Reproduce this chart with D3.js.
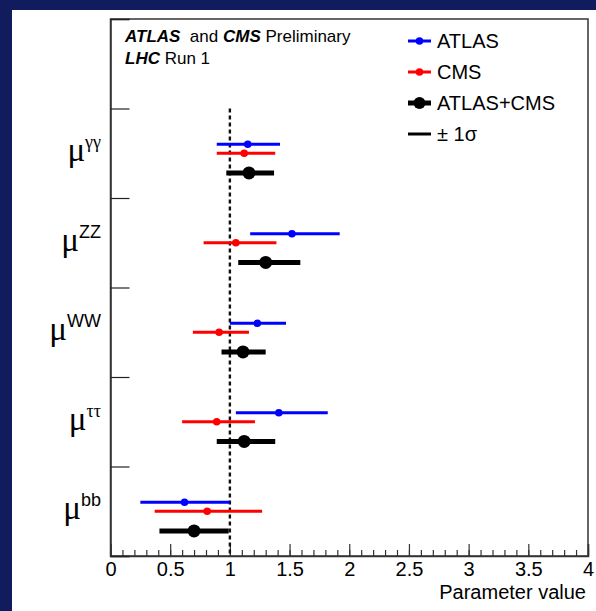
<!DOCTYPE html>
<html>
<head>
<meta charset="utf-8">
<script src="https://cdn.jsdelivr.net/npm/d3@7"></script>
<style>
  body { margin: 0; background: #101c5e; }
  svg { display: block; }
</style>
</head>
<body>
<div id="chart"></div>
<script>
// channels, top to bottom
var categories = ["γγ", "ZZ", "WW", "ττ", "bb"];
var supSerif = [true, false, false, true, false];

// best fit values and +-1 sigma edges
var atlas   = [1.15, 1.52, 1.23, 1.41, 0.62];
var atlasLo = [0.89, 1.17, 1.00, 1.05, 0.25];
var atlasHi = [1.42, 1.92, 1.47, 1.82, 1.00];

var cms   = [1.12, 1.05, 0.91, 0.89, 0.81];
var cmsLo = [0.89, 0.78, 0.69, 0.60, 0.37];
var cmsHi = [1.38, 1.39, 1.16, 1.21, 1.27];

var comb   = [1.16, 1.30, 1.11, 1.12, 0.70];
var combLo = [0.97, 1.07, 0.93, 0.89, 0.41];
var combHi = [1.37, 1.59, 1.30, 1.38, 0.99];

var xTicks = [0, 0.5, 1, 1.5, 2, 2.5, 3, 3.5, 4];

var w = 596, h = 611;
var pLeft = 110.5, pRight = 588, pTop = 19, pBottom = 556;
var sans = "'Liberation Sans', Arial, Helvetica, sans-serif";
var serif = "'Liberation Serif', 'Times New Roman', serif";

var svg = d3.select("#chart").append("svg")
    .attr("width", w)
    .attr("height", h);

// navy border + white page
svg.append("rect").attr("width", w).attr("height", h).attr("fill", "#101c5e");
svg.append("rect").attr("x", 12).attr("y", 10).attr("width", w - 12).attr("height", h - 10).attr("fill", "#fff");

var x = d3.scaleLinear().domain([0, 4]).range([pLeft, pRight]);
// 6 bins, top one kept for the legend
var y = d3.scaleLinear().domain([0, 6]).range([pBottom, pTop]);

// frame
svg.append("rect")
    .attr("x", pLeft).attr("y", pTop)
    .attr("width", pRight - pLeft).attr("height", pBottom - pTop)
    .attr("fill", "none").attr("stroke", "#333").attr("stroke-width", 1.5);

// minor x ticks
svg.append("g")
    .attr("transform", "translate(0," + pBottom + ")")
    .call(d3.axisBottom(x).tickValues(d3.range(0, 41).map(function(d) { return d / 10; })).tickSize(-6).tickFormat(""))
    .call(function(g) { g.select(".domain").remove(); })
    .selectAll("line").attr("stroke", "#333").attr("stroke-width", 1.2);

// major x ticks + labels
var xa = svg.append("g")
    .attr("transform", "translate(0," + pBottom + ")")
    .call(d3.axisBottom(x).tickValues(xTicks).tickSize(-12).tickPadding(6).tickFormat(function(d) { return d; }));
xa.select(".domain").attr("stroke", "#333").attr("stroke-width", 1.5);
xa.selectAll("line").attr("stroke", "#333").attr("stroke-width", 1.2);
xa.selectAll("text").attr("font-family", sans).attr("font-size", 20).attr("fill", "#000");

// y ticks on bin edges
var ya = svg.append("g")
    .attr("transform", "translate(" + pLeft + ",0)")
    .call(d3.axisLeft(y).tickValues(d3.range(0, 7)).tickSize(-19).tickFormat(""));
ya.select(".domain").attr("stroke", "#333").attr("stroke-width", 1.5);
ya.selectAll("line").attr("stroke", "#222").attr("stroke-width", 1.2);

svg.append("text")
    .attr("x", pRight - 2).attr("y", 599)
    .attr("text-anchor", "end")
    .attr("font-family", sans).attr("font-size", 20)
    .text("Parameter value");

// SM line
svg.append("line")
    .attr("x1", x(1)).attr("x2", x(1))
    .attr("y1", y(5)).attr("y2", pBottom)
    .attr("stroke", "#111").attr("stroke-width", 2.4)
    .attr("stroke-dasharray", "4,3");

// y labels
categories.forEach(function(c, i) {
  var t = svg.append("text")
      .attr("x", 101)
      .attr("y", y(5 - i - 0.5) + 8)
      .attr("text-anchor", "end");
  t.append("tspan").attr("font-family", serif).attr("font-size", 33).text("μ");
  t.append("tspan").attr("font-family", supSerif[i] ? serif : sans)
      .attr("font-size", 18).attr("dy", -13).text(c);
});

// error bars
function series(val, lo, hi, off, color, lw, r) {
  var g = svg.append("g");
  g.selectAll("line").data(val).enter().append("line")
      .attr("x1", function(d, i) { return x(lo[i]); })
      .attr("x2", function(d, i) { return x(hi[i]); })
      .attr("y1", function(d, i) { return y(5 - i - off); })
      .attr("y2", function(d, i) { return y(5 - i - off); })
      .attr("stroke", color).attr("stroke-width", lw);
  g.selectAll("circle").data(val).enter().append("circle")
      .attr("cx", function(d) { return x(d); })
      .attr("cy", function(d, i) { return y(5 - i - off); })
      .attr("r", r).attr("fill", color);
}
series(atlas, atlasLo, atlasHi, 0.4, "#0000ff", 3, 3.8);
series(cms, cmsLo, cmsHi, 0.5, "#ff0000", 3, 3.8);
series(comb, combLo, combHi, 0.72, "#000", 5, 6.5);

// header
var hd = svg.append("text").attr("x", 125).attr("y", 42).attr("font-family", sans).attr("font-size", 17);
hd.append("tspan").attr("font-weight", "bold").attr("font-style", "italic").text("ATLAS");
hd.append("tspan").attr("xml:space", "preserve").text("  and ");
hd.append("tspan").attr("font-weight", "bold").attr("font-style", "italic").text("CMS");
hd.append("tspan").text(" Preliminary");
var hd2 = svg.append("text").attr("x", 125).attr("y", 64).attr("font-family", sans).attr("font-size", 17);
hd2.append("tspan").attr("font-weight", "bold").attr("font-style", "italic").text("LHC");
hd2.append("tspan").text(" Run 1");

// legend
var legend = [
  {label: "ATLAS", color: "#0000ff", lw: 3, r: 3.8},
  {label: "CMS", color: "#ff0000", lw: 3, r: 3.8},
  {label: "ATLAS+CMS", color: "#000", lw: 5, r: 6},
  {label: "± 1σ", color: "#000", lw: 3, r: 0}
];
var lg = svg.selectAll(".leg").data(legend).enter().append("g")
    .attr("class", "leg")
    .attr("transform", function(d, i) { return "translate(408," + (41 + i * 31) + ")"; });
lg.append("line").attr("x1", 0).attr("x2", 23)
    .attr("stroke", function(d) { return d.color; })
    .attr("stroke-width", function(d) { return d.lw; });
lg.filter(function(d) { return d.r > 0; }).append("circle")
    .attr("cx", 11.5).attr("r", function(d) { return d.r; })
    .attr("fill", function(d) { return d.color; });
lg.append("text").attr("x", 29).attr("y", 7)
    .attr("font-family", sans).attr("font-size", 20)
    .text(function(d) { return d.label; });
</script>
</body>
</html>
